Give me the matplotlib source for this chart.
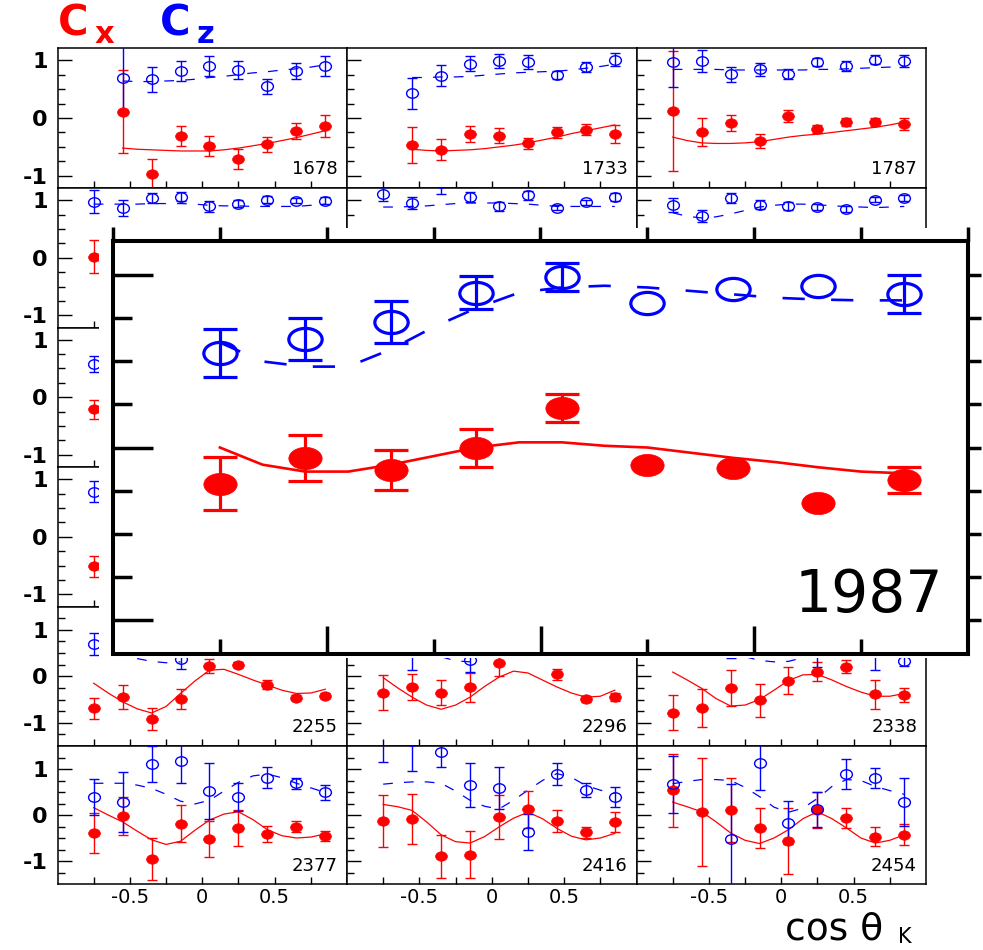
import numpy as np
import matplotlib
matplotlib.use("Agg")
import matplotlib.pyplot as plt
from matplotlib.path import Path
from matplotlib.patches import Rectangle
from matplotlib.transforms import Affine2D
from matplotlib.ticker import FixedLocator, NullFormatter

plt.rcParams['font.family'] = ['DejaVu Sans']
plt.rcParams['axes.unicode_minus'] = False
plt.rcParams['lines.scale_dashes'] = False

W, H = 983, 950
nan = np.nan

# ---------------- data ----------------
x_bins = [-0.75, -0.55, -0.35, -0.15, 0.05, 0.25, 0.45, 0.65, 0.85]
x_model = [-0.75, -0.65, -0.55, -0.45, -0.35, -0.25, -0.15, -0.05, 0.05,
           0.15, 0.25, 0.35, 0.45, 0.55, 0.65, 0.75, 0.85]

# 1678
cx_1678 = [nan, 0.11, -0.97, -0.31, -0.48, -0.71, -0.45, -0.22, -0.13]
ecx_1678 = [nan, 0.72, 0.26, 0.18, 0.17, 0.17, 0.13, 0.14, 0.19]
cz_1678 = [nan, 0.69, 0.67, 0.81, 0.90, 0.83, 0.55, 0.81, 0.90]
ecz_1678 = [nan, 0.55, 0.22, 0.17, 0.17, 0.15, 0.13, 0.14, 0.18]
mcx_1678 = [nan, nan, -0.52, -0.54, -0.55, -0.56, -0.57, -0.57, -0.57, -0.55, -0.52, -0.48, -0.44, -0.39, -0.34, -0.28, -0.22]
mcz_1678 = [nan, nan, 0.64, 0.63, 0.63, 0.64, 0.65, 0.67, 0.70, 0.72, 0.75, 0.78, 0.80, 0.83, 0.85, 0.88, 0.92]

# 1733
cx_1733 = [nan, -0.47, -0.55, -0.28, -0.31, -0.44, -0.25, -0.20, -0.28]
ecx_1733 = [nan, 0.31, 0.18, 0.14, 0.13, 0.10, 0.09, 0.10, 0.16]
cz_1733 = [nan, 0.43, 0.73, 0.94, 0.99, 0.97, 0.74, 0.88, 1.01]
ecz_1733 = [nan, 0.27, 0.18, 0.13, 0.12, 0.12, 0.07, 0.08, 0.11]
mcx_1733 = [nan, nan, -0.54, -0.56, -0.57, -0.56, -0.55, -0.53, -0.50, -0.47, -0.43, -0.38, -0.33, -0.27, -0.22, -0.17, -0.12]
mcz_1733 = [nan, nan, 0.70, 0.70, 0.71, 0.71, 0.72, 0.74, 0.76, 0.78, 0.79, 0.80, 0.81, 0.83, 0.86, 0.89, 0.93]

# 1787
cx_1787 = [0.12, -0.24, -0.08, -0.39, 0.03, -0.19, -0.07, -0.07, -0.10]
ecx_1787 = [1.03, 0.24, 0.14, 0.12, 0.10, 0.07, 0.07, 0.07, 0.10]
cz_1787 = [0.97, 0.99, 0.76, 0.84, 0.76, 0.97, 0.90, 1.01, 0.99]
ecz_1787 = [0.44, 0.19, 0.13, 0.11, 0.09, 0.07, 0.08, 0.08, 0.10]
mcx_1787 = [-0.33, -0.39, -0.43, -0.44, -0.44, -0.43, -0.41, -0.37, -0.33, -0.30, -0.28, -0.25, -0.22, -0.19, -0.16, -0.12, -0.07]
mcz_1787 = [0.84, 0.84, 0.84, 0.84, 0.83, 0.83, 0.83, 0.83, 0.83, 0.83, 0.84, 0.84, 0.85, 0.86, 0.87, 0.88, 0.89]

# second row (mostly hidden behind the enlarged panel)
cx_r2c1 = [0.02, nan, nan, nan, nan, nan, nan, nan, nan]
ecx_r2c1 = [0.29, nan, nan, nan, nan, nan, nan, nan, nan]
cz_r2c1 = [0.97, 0.87, 1.04, 1.06, 0.89, 0.94, 1.01, 0.99, 0.99]
ecz_r2c1 = [0.20, 0.14, 0.09, 0.08, 0.09, 0.06, 0.06, 0.04, 0.06]
mcz_r2c1 = [0.93, 0.93, 0.93, 0.93, 0.94, 0.94, 0.94, 0.93, 0.91, 0.90, 0.90, 0.89, 0.89, 0.89, 0.89, 0.91, 0.93]

cz_r2c2 = [1.11, 0.95, 1.30, 1.05, 0.89, 1.08, 0.87, 0.96, 1.06]
ecz_r2c2 = [0.12, 0.10, 0.19, 0.09, 0.08, 0.07, 0.05, 0.05, 0.07]
mcz_r2c2 = [0.88, 0.88, 0.89, 0.90, 0.92, 0.94, 0.95, 0.95, 0.95, 0.94, 0.93, 0.91, 0.89, 0.89, 0.89, 0.89, 0.89]

cz_r2c3 = [0.92, 0.72, 1.04, 0.92, 0.89, 0.88, 0.84, 1.01, 1.04]
ecz_r2c3 = [0.12, 0.10, 0.09, 0.08, 0.07, 0.05, 0.05, 0.05, 0.05]
mcz_r2c3 = [0.78, 0.72, 0.69, 0.71, 0.76, 0.82, 0.88, 0.91, 0.93, 0.93, 0.92, 0.90, 0.89, 0.88, 0.87, 0.88, 0.89]

# third / fourth rows: only first bin visible
cx_r3c1 = [-0.21, nan, nan, nan, nan, nan, nan, nan, nan]
ecx_r3c1 = [0.17, nan, nan, nan, nan, nan, nan, nan, nan]
cz_r3c1 = [0.58, nan, nan, nan, nan, nan, nan, nan, nan]
ecz_r3c1 = [0.14, nan, nan, nan, nan, nan, nan, nan, nan]
cx_r4c1 = [-0.51, nan, nan, nan, nan, nan, nan, nan, nan]
ecx_r4c1 = [0.18, nan, nan, nan, nan, nan, nan, nan, nan]
cz_r4c1 = [0.78, nan, nan, nan, nan, nan, nan, nan, nan]
ecz_r4c1 = [0.18, nan, nan, nan, nan, nan, nan, nan, nan]

# 2255
cx_2255 = [-0.69, -0.45, -0.92, -0.49, 0.22, 0.25, -0.18, -0.46, -0.42]
ecx_2255 = [0.22, 0.26, 0.24, 0.22, 0.15, 0.06, 0.09, 0.05, 0.05]
cz_2255 = [0.69, nan, nan, 0.38, nan, nan, nan, nan, nan]
ecz_2255 = [0.23, nan, nan, 0.22, nan, nan, nan, nan, nan]
mcx_2255 = [-0.15, -0.36, -0.55, -0.70, -0.79, -0.65, -0.37, -0.10, 0.13, 0.15, 0.04, -0.08, -0.19, -0.30, -0.37, -0.36, -0.28]
mcz_2255 = [nan, nan, nan, 0.38, 0.32, 0.29, 0.31, nan, nan, nan, nan, nan, nan, nan, nan, nan, nan]

# 2296
cx_2296 = [-0.35, -0.23, -0.35, -0.24, 0.29, nan, 0.04, -0.49, -0.45]
ecx_2296 = [0.37, 0.27, 0.26, 0.32, 0.28, nan, 0.12, 0.07, 0.08]
cz_2296 = [nan, 0.60, nan, 0.34, nan, nan, nan, nan, nan]
ecz_2296 = [nan, 0.47, nan, 0.25, nan, nan, nan, nan, nan]
mcx_2296 = [-0.03, -0.25, -0.45, -0.62, -0.71, -0.62, -0.45, -0.22, -0.02, 0.11, 0.07, -0.08, -0.23, -0.36, -0.45, -0.43, -0.30]
mcz_2296 = [nan, nan, nan, nan, 0.42, 0.33, 0.31, nan, nan, nan, nan, nan, nan, nan, nan, nan, nan]

# 2338
cx_2338 = [-0.78, -0.68, -0.25, -0.52, -0.10, 0.10, 0.20, -0.39, -0.41]
ecx_2338 = [0.38, 0.41, 0.39, 0.36, 0.29, 0.20, 0.14, 0.32, 0.15]
cz_2338 = [nan, nan, 0.60, nan, nan, 0.55, nan, 0.55, 0.32]
ecz_2338 = [nan, nan, 0.21, nan, nan, 0.35, nan, 0.42, 0.11]
mcx_2338 = [0.09, -0.08, -0.26, -0.48, -0.64, -0.62, -0.50, -0.30, -0.09, 0.03, 0.04, -0.08, -0.22, -0.34, -0.43, -0.43, -0.37]
mcz_2338 = [nan, nan, nan, nan, nan, 0.42, 0.34, 0.31, 0.32, 0.40, nan, nan, nan, nan, nan, nan, nan]

# 2377
cx_2377 = [-0.39, -0.02, -0.95, -0.19, -0.52, -0.28, -0.41, -0.26, -0.45]
ecx_2377 = [0.43, 0.42, 0.46, 0.40, 0.40, 0.39, 0.17, 0.12, 0.11]
cz_2377 = [0.39, 0.28, 1.11, 1.17, 0.52, 0.39, 0.81, 0.69, 0.49]
ecz_2377 = [0.40, 0.66, 0.39, 0.48, 0.60, 0.30, 0.23, 0.12, 0.16]
mcx_2377 = [0.16, 0.0, -0.15, -0.35, -0.54, -0.64, -0.57, -0.33, -0.11, 0.02, 0.07, -0.10, -0.32, -0.45, -0.50, -0.48, -0.41]
mcz_2377 = [0.69, 0.69, 0.69, 0.65, 0.58, 0.45, 0.30, 0.24, 0.32, 0.52, 0.71, 0.85, 0.89, 0.81, 0.69, 0.59, 0.49]

# 2416
cx_2416 = [-0.13, -0.09, -0.90, -0.86, -0.05, 0.12, -0.13, -0.38, -0.15]
ecx_2416 = [0.56, 0.55, 0.46, 0.52, 0.48, 0.40, 0.23, 0.12, 0.21]
cz_2416 = [1.65, 1.60, 1.38, 0.65, 0.59, -0.37, 0.89, 0.55, 0.39]
ecz_2416 = [0.50, 0.65, 0.34, 0.47, 0.46, 0.40, 0.24, 0.15, 0.22]
mcx_2416 = [0.23, 0.18, 0.10, -0.15, -0.43, -0.58, -0.61, -0.47, -0.26, -0.07, 0.06, -0.08, -0.29, -0.46, -0.54, -0.50, -0.40]
mcz_2416 = [0.67, 0.70, 0.72, 0.72, 0.69, 0.52, 0.32, 0.19, 0.13, 0.32, 0.54, 0.75, 0.90, 0.82, 0.64, 0.54, 0.47]

# 2454
cx_2454 = [0.54, 0.06, 0.11, -0.28, -0.56, 0.11, -0.07, -0.47, -0.43]
ecx_2454 = [0.79, 1.17, 0.70, 0.43, 0.72, 0.40, 0.22, 0.20, 0.23]
cz_2454 = [0.67, nan, -0.52, 1.14, -0.17, 0.12, 0.89, 0.81, 0.28]
ecz_2454 = [0.62, nan, 1.20, 0.60, 0.47, 0.37, 0.32, 0.22, 0.52]
mcx_2454 = [0.28, 0.18, 0.07, -0.15, -0.39, -0.55, -0.62, -0.50, -0.32, -0.08, 0.07, -0.08, -0.28, -0.50, -0.61, -0.55, -0.43]
mcz_2454 = [0.68, 0.73, 0.77, 0.77, 0.75, 0.60, 0.40, 0.17, 0.06, 0.15, 0.36, 0.62, 0.77, 0.75, 0.62, 0.53, 0.45]

# 1987 (enlarged)
cx_1987 = [-0.21, -0.06, -0.13, -0.005, 0.23, -0.10, -0.12, -0.32, -0.19]
ecx_1987 = [0.155, 0.135, 0.115, 0.11, 0.08, nan, nan, nan, 0.075]
cz_1987 = [0.55, 0.63, 0.73, 0.90, 0.99, 0.84, 0.92, 0.94, 0.89]
ecz_1987 = [0.14, 0.12, 0.12, 0.095, 0.08, nan, nan, nan, 0.11]
mcx_1987 = [0.0, -0.10, -0.14, -0.14, -0.10, -0.05, 0.0, 0.03, 0.03, 0.01, 0.0, -0.03, -0.06, -0.085, -0.115, -0.14, -0.15]
mcz_1987 = [0.61, 0.50, 0.47, 0.47, 0.57, 0.70, 0.81, 0.90, 0.93, 0.94, 0.93, 0.91, 0.89, 0.87, 0.86, 0.855, 0.855]

xtick_major = [-0.5, 0.0, 0.5]
xtick_minor = [-0.75, -0.25, 0.25, 0.75]
xtick_labels = ['-0.5', '0', '0.5']
ytick_major = [-1, 0, 1]
ytick_labels = ['-1', '0', '1']

panels = [
    ('1678', cx_1678, ecx_1678, cz_1678, ecz_1678, mcx_1678, mcz_1678),
    ('1733', cx_1733, ecx_1733, cz_1733, ecz_1733, mcx_1733, mcz_1733),
    ('1787', cx_1787, ecx_1787, cz_1787, ecz_1787, mcx_1787, mcz_1787),
    ('', cx_r2c1, ecx_r2c1, cz_r2c1, ecz_r2c1, None, mcz_r2c1),
    ('', None, None, cz_r2c2, ecz_r2c2, None, mcz_r2c2),
    ('', None, None, cz_r2c3, ecz_r2c3, None, mcz_r2c3),
    ('', cx_r3c1, ecx_r3c1, cz_r3c1, ecz_r3c1, None, None),
    ('', None, None, None, None, None, None),
    ('', None, None, None, None, None, None),
    ('', cx_r4c1, ecx_r4c1, cz_r4c1, ecz_r4c1, None, None),
    ('', None, None, None, None, None, None),
    ('', None, None, None, None, None, None),
    ('2255', cx_2255, ecx_2255, cz_2255, ecz_2255, mcx_2255, mcz_2255),
    ('2296', cx_2296, ecx_2296, cz_2296, ecz_2296, mcx_2296, mcz_2296),
    ('2338', cx_2338, ecx_2338, cz_2338, ecz_2338, mcx_2338, mcz_2338),
    ('2377', cx_2377, ecx_2377, cz_2377, ecz_2377, mcx_2377, mcz_2377),
    ('2416', cx_2416, ecx_2416, cz_2416, ecz_2416, mcx_2416, mcz_2416),
    ('2454', cx_2454, ecx_2454, cz_2454, ecz_2454, mcx_2454, mcz_2454),
]

# ---------------- helpers ----------------
def fbox(x0, y0, x1, y1):
    return [x0 / W, 1 - y1 / H, (x1 - x0) / W, (y1 - y0) / H]


def ellipse(ratio):
    return Path.unit_circle().transformed(Affine2D().scale(ratio, 1.0))


def draw_data(ax, cx, ecx, cz, ecz, mcx, mcz, ms, ratio, elw, cap, mew, clw, dash):
    if mcz is not None:
        ax.plot(x_model, mcz, color='blue', lw=clw, dashes=dash, zorder=2)
    if mcx is not None:
        ax.plot(x_model, mcx, color='red', lw=clw, zorder=2)
    xb = np.array(x_bins)
    mk = ellipse(ratio)
    sets = [(cx, ecx, 'red'), (cz, ecz, 'blue')]
    for y, e, col in sets:
        if y is None:
            continue
        y = np.array(y, float)
        e = np.array(e, float)
        m = np.isfinite(y) & np.isfinite(e)
        if m.any():
            ax.errorbar(xb[m], y[m], yerr=e[m], fmt='none', ecolor=col,
                        elinewidth=elw, capsize=cap, capthick=elw, zorder=3)
    for y, e, col in sets:
        if y is None:
            continue
        y = np.array(y, float)
        m = np.isfinite(y)
        if col == 'red':
            ax.plot(xb[m], y[m], ls='none', marker=mk, ms=ms, mfc='red',
                    mec='red', mew=0.5, zorder=4)
        else:
            ax.plot(xb[m], y[m], ls='none', marker=mk, ms=ms, mfc='none',
                    mec='blue', mew=mew, zorder=5)


# ---------------- figure ----------------
fig = plt.figure(figsize=(W / 100, H / 100), dpi=100)

col_edges = [57.5, 347, 636.5, 926]
row_edges = [48, 188, 327.5, 467, 606.5, 746, 884]

for i, (lab, cx, ecx, cz, ecz, mcx, mcz) in enumerate(panels):
    r, c = divmod(i, 3)
    ax = fig.add_axes(fbox(col_edges[c], row_edges[r], col_edges[c + 1], row_edges[r + 1]))
    ax.set_xlim(-1, 1)
    lim = 1.5 if r >= 4 else 1.21
    ax.set_ylim(-lim, lim)
    for sp in ax.spines.values():
        sp.set_linewidth(1.1)
    ax.xaxis.set_major_locator(FixedLocator(xtick_major))
    ax.xaxis.set_minor_locator(FixedLocator(xtick_minor))
    ax.yaxis.set_major_locator(FixedLocator(ytick_major))
    ymin = [v for v in np.arange(-1.25, 1.26, 0.25) if abs(v) < lim and abs(v) not in (0, 1)]
    ax.yaxis.set_minor_locator(FixedLocator(ymin))
    ax.tick_params(axis='y', which='major', direction='in', length=10, width=1.0,
                   left=True, right=False, labelsize=16, pad=7)
    ax.tick_params(axis='y', which='minor', direction='in', length=5, width=1.0)
    ax.tick_params(axis='x', which='both', direction='in', length=5, width=1.0,
                   top=False, labelsize=14, pad=3)
    if c == 0:
        ax.set_yticklabels(ytick_labels, fontweight='bold')
    else:
        ax.tick_params(axis='y', labelleft=False)
    if r == 5:
        ax.set_xticklabels(xtick_labels)
    else:
        ax.tick_params(axis='x', labelbottom=False)
    draw_data(ax, cx, ecx, cz, ecz, mcx, mcz, ms=8.5, ratio=1.25, elw=1.0,
              cap=3.6, mew=1.0, clw=0.9, dash=(7, 8))
    if lab:
        ax.text(1 - 9 / 289.5, 13.5 / 139.5, lab, transform=ax.transAxes,
                ha='right', va='baseline', fontsize=13)

# white pad behind the enlarged panel
fig.add_artist(Rectangle((99 / W, 1 - 658 / H), (W - 99) / W, (658 - 228) / H,
                         transform=fig.transFigure, facecolor='white',
                         edgecolor='none', zorder=1))

ins = fig.add_axes(fbox(113, 241, 968, 654))
ins.set_zorder(2)
ins.set_xlim(-1, 1)
ins.set_ylim(-1.2, 1.2)
for sp in ins.spines.values():
    sp.set_linewidth(2.9)
ins.xaxis.set_major_locator(FixedLocator(xtick_major))
ins.xaxis.set_minor_locator(FixedLocator(xtick_minor))
ins.yaxis.set_major_locator(FixedLocator(ytick_major))
ins.yaxis.set_minor_locator(FixedLocator([-0.75, -0.5, -0.25, 0.25, 0.5, 0.75]))
ins.tick_params(axis='x', which='major', direction='in', length=20, width=2.5,
                top=False, labelbottom=False)
ins.tick_params(axis='x', which='minor', direction='in', length=11, width=2.5, top=False)
ins.tick_params(axis='y', which='major', direction='in', length=29, width=2.5,
                right=False, labelleft=False)
ins.tick_params(axis='y', which='minor', direction='in', length=14, width=2.5, right=False)

all_quarter = [-1, -0.75, -0.5, -0.25, 0, 0.25, 0.5, 0.75, 1]
sx = ins.secondary_xaxis('top')
sx.xaxis.set_major_locator(FixedLocator(all_quarter))
sx.xaxis.set_major_formatter(NullFormatter())
sx.tick_params(axis='x', direction='out', length=10, width=2.5)
sx.spines['top'].set_linewidth(2.9)
sy = ins.secondary_yaxis('right')
sy.yaxis.set_major_locator(FixedLocator(all_quarter))
sy.yaxis.set_major_formatter(NullFormatter())
sy.tick_params(axis='y', direction='out', length=9.5, width=2.5)
sy.spines['right'].set_linewidth(2.9)

draw_data(ins, cx_1987, ecx_1987, cz_1987, ecz_1987, mcx_1987, mcz_1987,
          ms=24, ratio=1.5, elw=2.3, cap=11.9, mew=2.3, clw=1.9, dash=(16, 19))
ins.text(943 / W, 1 - 612 / H, '1987', transform=fig.transFigure, ha='right',
         va='baseline', fontsize=42)

# titles
fig.text(58 / W, 1 - 35 / H, 'C', color='red', fontsize=30, fontweight='bold',
         ha='left', va='baseline')
fig.text(95 / W, 1 - 43 / H, 'x', color='red', fontsize=22, fontweight='bold',
         ha='left', va='baseline')
fig.text(160 / W, 1 - 35 / H, 'C', color='blue', fontsize=30, fontweight='bold',
         ha='left', va='baseline')
fig.text(197 / W, 1 - 43 / H, 'z', color='blue', fontsize=22, fontweight='bold',
         ha='left', va='baseline')
fig.text(785 / W, 1 - 940 / H, 'cos θ', fontsize=27, ha='left', va='baseline')
fig.text(898 / W, 1 - 943 / H, 'K', fontsize=15, ha='left', va='baseline')

fig.savefig('out.png', dpi=100, facecolor='white')
